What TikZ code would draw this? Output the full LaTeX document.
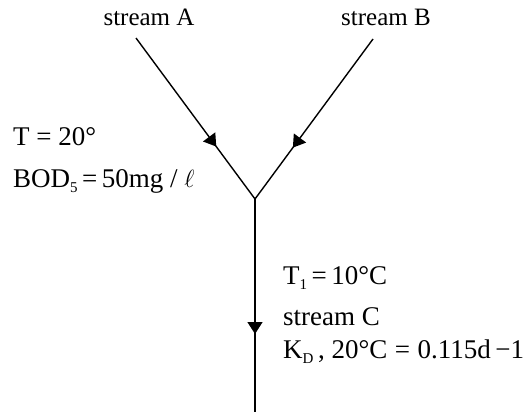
\documentclass[tikz,border=0pt]{standalone}
\usepackage{fontspec}
\setmainfont{Liberation Serif}
\usetikzlibrary{arrows.meta, decorations.markings}
\newcommand{\lowsub}[1]{\raisebox{-0.45ex}{\fontsize{15}{15}\selectfont #1}}

\begin{document}
\begin{tikzpicture}[x=1pt, y=-1pt,
    flow/.style={line width=1.4pt, postaction={decorate},
      decoration={markings, mark=at position 135pt with {\arrow{Triangle[width=15pt,length=12pt]}}}},
    lbl/.style={inner sep=0pt, anchor=base, font=\fontsize{25}{30}\selectfont},
    eqn/.style={inner sep=0pt, anchor=base west, font=\fontsize{27}{32}\selectfont}]
    \useasboundingbox (0,0) rectangle (524,417);
    % junction points
    \coordinate (inA) at (136,38);
    \coordinate (inB) at (373,39);
    \coordinate (junc) at (255,199);
    \coordinate (outC) at (255,412);
    \draw[flow] (inA) -- (junc);
    \draw[flow] (inB) -- (junc);
    \draw[flow] (junc) -- (outC);
    % labels
    \node[lbl] (streamA) at (149,26) {stream A};
    \node[lbl] (streamB) at (386,26) {stream B};
    \node[eqn] (tempA) at (13,145) {T = 20°};
    \node[eqn] (bodA) at (13,187) {BOD\lowsub{5}\,=\,50mg / $\ell$};
    \node[eqn] (tempC) at (283,284) {T\lowsub{1}\,=\,10°C};
    \node[eqn] (nameC) at (283,325) {stream C};
    \node[eqn] (rateC) at (283,358) {K\lowsub{D}\,, 20°C\;=\;0.115d\,−1};
\end{tikzpicture}
\end{document}
